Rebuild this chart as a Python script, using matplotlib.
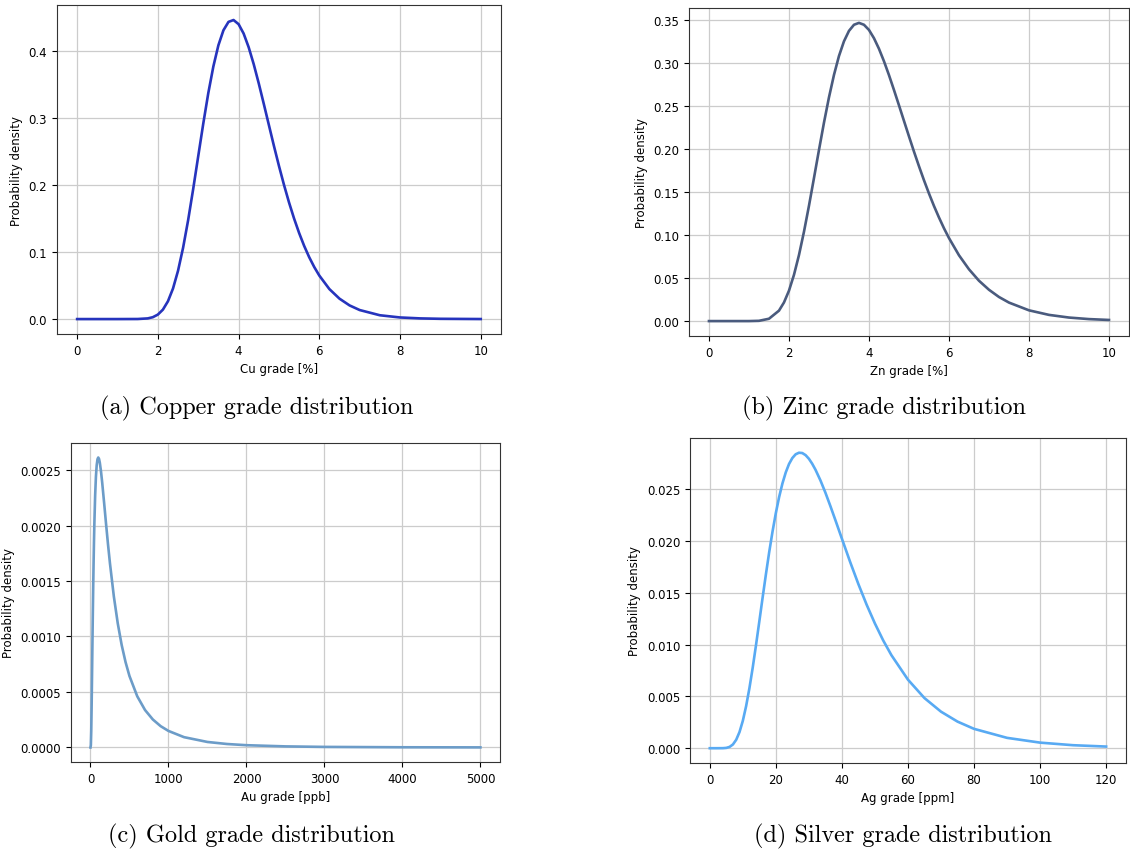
import matplotlib
matplotlib.use("Agg")
import matplotlib.pyplot as plt

# values
cu_x = [0, 0.5, 1, 1.5, 1.75, 1.875, 2, 2.125, 2.25, 2.375, 2.5, 2.625, 2.75, 2.875, 3,
        3.125, 3.25, 3.375, 3.5, 3.625, 3.75, 3.875, 4, 4.125, 4.25, 4.375, 4.5, 4.625,
        4.75, 4.875, 5, 5.125, 5.25, 5.375, 5.5, 5.625, 5.75, 5.875, 6, 6.25, 6.5, 6.75,
        7, 7.5, 8, 8.5, 9, 10]
cu_y = [0, 0, 0, 0.0001, 0.0010, 0.0028, 0.0067, 0.0141, 0.0266, 0.0456, 0.0722, 0.1065,
        0.1477, 0.1942, 0.2432, 0.2920, 0.3377, 0.3774, 0.4091, 0.4315, 0.4440, 0.4468,
        0.4406, 0.4266, 0.4061, 0.3808, 0.3521, 0.3214, 0.2901, 0.2589, 0.2289, 0.2005,
        0.1742, 0.1502, 0.1286, 0.1093, 0.0924, 0.0777, 0.0650, 0.0448, 0.0305, 0.0204,
        0.0135, 0.0057, 0.0024, 0.0010, 0.0004, 0.00005]

zn_x = [0, 0.5, 1, 1.25, 1.5, 1.75, 1.875, 2, 2.125, 2.25, 2.375, 2.5, 2.625, 2.75, 2.875,
        3, 3.125, 3.25, 3.375, 3.5, 3.625, 3.75, 3.875, 4, 4.125, 4.25, 4.375, 4.5, 4.625,
        4.75, 4.875, 5, 5.125, 5.25, 5.375, 5.5, 5.625, 5.75, 5.875, 6, 6.25, 6.5, 6.75,
        7, 7.25, 7.5, 8, 8.5, 9, 9.5, 10]
zn_y = [0, 0, 0, 0.0003, 0.0027, 0.0121, 0.0216, 0.0353, 0.0537, 0.0767, 0.1038, 0.1340,
        0.1662, 0.1988, 0.2306, 0.2600, 0.2861, 0.3081, 0.3252, 0.3373, 0.3444, 0.3466,
        0.3444, 0.3384, 0.3288, 0.3165, 0.3020, 0.2859, 0.2686, 0.2508, 0.2327, 0.2147,
        0.1970, 0.1800, 0.1637, 0.1483, 0.1338, 0.1204, 0.1079, 0.0965, 0.0765, 0.0602,
        0.0469, 0.0364, 0.0280, 0.0215, 0.0125, 0.0072, 0.0041, 0.0023, 0.0013]

au_x = [0, 5, 10, 15, 20, 25, 30, 35, 40, 45, 50, 60, 70, 80, 90, 100, 110, 120, 135, 150,
        175, 200, 225, 250, 300, 350, 400, 450, 500, 600, 700, 800, 900, 1000, 1200,
        1500, 1750, 2000, 2500, 3000, 4000, 5000]
au_y = [0, 0.0000205, 0.000149, 0.000374, 0.000645, 0.000926, 0.001195, 0.001441,
        0.001661, 0.001852, 0.002016, 0.002270, 0.002440, 0.002544, 0.002597, 0.002613,
        0.002600, 0.002566, 0.002488, 0.002390, 0.002205, 0.002014, 0.001830, 0.001659,
        0.001360, 0.001118, 0.000924, 0.000769, 0.000644, 0.000461, 0.000337, 0.000252,
        0.000192, 0.000149, 0.0000928, 0.0000496, 0.0000312, 0.0000204, 0.0000097,
        0.0000050, 0.0000017, 0.0000007]

ag_x = [0, 2, 4, 5, 6, 7, 8, 9, 10, 11, 12, 13, 14, 15, 16, 17, 18, 19, 20, 21, 22, 23,
        24, 25, 26, 27, 28, 29, 30, 31, 32, 33.5, 35, 36.5, 38, 40, 42.5, 45, 47.5, 50,
        52.5, 55, 60, 65, 70, 75, 80, 90, 100, 110, 120]
ag_y = [0, 0, 0.000005, 0.000032, 0.000127, 0.000362, 0.000818, 0.001564, 0.002645,
        0.004067, 0.00580, 0.00779, 0.00997, 0.01225, 0.01456, 0.01681, 0.01896, 0.02093,
        0.02271, 0.02426, 0.02557, 0.02663, 0.02745, 0.02802, 0.02838, 0.02853, 0.02850,
        0.02830, 0.02795, 0.02747, 0.02689, 0.02586, 0.02468, 0.02339, 0.02205, 0.02023,
        0.01798, 0.01584, 0.01385, 0.01204, 0.01041, 0.00898, 0.00662, 0.00484, 0.00353,
        0.00257, 0.00187, 0.00100, 0.00054, 0.00029, 0.00016]

panels = [
    (cu_x, cu_y, "#2634bd", "Cu grade [%]", "(a) Copper grade distribution",
     [0.0504, 0.6077, 0.3929, 0.3852], (0.2274, 0.5222)),
    (zn_x, zn_y, "#4a5b7e", "Zn grade [%]", "(b) Zinc grade distribution",
     [0.6097, 0.6054, 0.3894, 0.3841], (0.7823, 0.5222)),
    (au_x, au_y, "#6c9cc8", "Au grade [ppb]", "(c) Gold grade distribution",
     [0.0628, 0.1066, 0.3796, 0.3735], (0.2230, 0.0211)),
    (ag_x, ag_y, "#58aaf3", "Ag grade [ppm]", "(d) Silver grade distribution",
     [0.6106, 0.1054, 0.3858, 0.3806], (0.7991, 0.0211)),
]

fig = plt.figure(figsize=(11.3, 8.54), dpi=100)

for x, y, color, xlabel, caption, rect, cpos in panels:
    ax = fig.add_axes(rect)
    ax.plot(x, y, color=color, lw=1.9, solid_joinstyle="round")
    ax.grid(True, color="#cccccc", lw=0.9)
    ax.set_axisbelow(True)
    ax.set_xlabel(xlabel, fontsize=8.5)
    ax.set_ylabel("Probability density", fontsize=8.5)
    ax.tick_params(labelsize=8.5)
    for s in ax.spines.values():
        s.set_color("#333333")
    fig.text(cpos[0], cpos[1], caption, ha="center", va="center",
             family="cmr10", fontsize=17.5)

fig.savefig("out.png", dpi=100)
